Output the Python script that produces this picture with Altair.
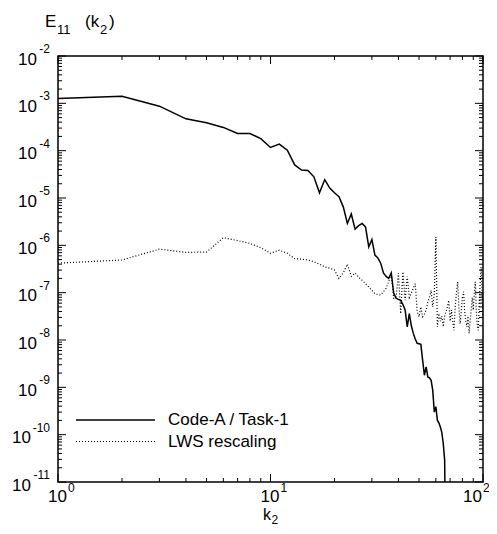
import altair as alt
import pandas as pd

# ---------------- data ----------------
series_names = ["Code-A / Task-1", "LWS rescaling"]

k_solid = list(range(1, 68))
e_solid = [1.26e-3, 1.41e-3, 8.7e-4, 4.7e-4, 3.9e-4, 3.1e-4, 2.3e-4, 2.3e-4, 1.8e-4, 1.17e-4,
           1.38e-4, 1.02e-4, 5.0e-5, 3.9e-5, 3.8e-5, 2.8e-5, 1.29e-5, 2.45e-5, 1.62e-5, 1.29e-5,
           1.07e-5, 6.5e-6, 2.9e-6, 4.6e-6, 2.2e-6, 2.6e-6, 2.9e-6, 2.45e-6, 9.3e-7, 1.32e-6,
           6.2e-7, 5.4e-7, 4.2e-7, 2.6e-7, 2.2e-7, 2.0e-7, 2.6e-7, 9.8e-8, 7.6e-8, 7.2e-8,
           6.9e-8, 5.6e-8, 4.3e-8, 1.9e-8, 3.6e-8, 2.0e-8, 1.38e-8, 1.05e-8, 8.5e-9, 8.3e-9,
           8.1e-9, 3.7e-9, 1.8e-9, 2.7e-9, 1.66e-9, 1.58e-9, 1.41e-9, 8.7e-10, 3.0e-10, 3.9e-10,
           2.0e-10, 1.78e-10, 1.45e-10, 1.12e-10, 6.5e-11, 2.9e-11, 1e-13]

k_dotted = list(range(1, 101))
e_dotted = [4.2e-7, 4.9e-7, 8.3e-7, 7.1e-7, 7.2e-7, 1.45e-6, 1.26e-6, 1.1e-6, 8.9e-7, 6.8e-7,
            7.9e-7, 6.8e-7, 5.2e-7, 5.1e-7, 4.9e-7, 4.5e-7, 4.0e-7, 3.5e-7, 3.3e-7, 3.0e-7,
            2.0e-7, 2.6e-7, 4.0e-7, 2.2e-7, 2.6e-7, 2.1e-7, 1.82e-7, 1.55e-7, 1.32e-7, 1.12e-7,
            9.5e-8, 9.1e-8, 8.9e-8, 1.05e-7, 1.23e-7, 1.7e-7, 2.6e-7, 7.6e-8, 7.9e-8, 2.6e-7,
            3.6e-8, 2.75e-7, 6.9e-8, 2.2e-7, 7.9e-8, 9.8e-8, 1.26e-7, 1.55e-7, 4.0e-8, 3.1e-8,
            5.0e-8, 3.1e-8, 3.5e-8, 4.3e-8, 6.3e-8, 7.9e-8, 1.12e-7, 5.0e-8, 9.5e-8, 1.5e-6,
            1.9e-8, 3.6e-8, 2.5e-8, 3.2e-8, 1.9e-8, 3.2e-8, 4.0e-8, 5.0e-8, 6.9e-8, 2.5e-8,
            4.3e-8, 2.5e-8, 1.6e-8, 5.0e-8, 1.0e-7, 1.7e-7, 5.0e-8, 2.2e-8, 4.0e-8, 7.9e-8,
            1.05e-7, 4.0e-8, 2.5e-8, 1.9e-8, 3.2e-8, 1.38e-8, 2.5e-8, 4.3e-8, 7.9e-8, 4.3e-8,
            1.0e-7, 1.7e-7, 4.0e-8, 2.0e-8, 1.6e-8, 6.3e-8, 1.58e-7, 3.5e-7, 1.0e-7, 3.2e-8]

x_major = [1, 10, 100]
x_minor = [2, 3, 4, 5, 6, 7, 8, 9, 20, 30, 40, 50, 60, 70, 80, 90]
x_exponents = ["0", "1", "2"]

y_major = [1e-2, 1e-3, 1e-4, 1e-5, 1e-6, 1e-7, 1e-8, 1e-9, 1e-10, 1e-11]
y_exponents = ["-2", "-3", "-4", "-5", "-6", "-7", "-8", "-9", "-10", "-11"]
y_minor = [m * 10.0 ** e for e in range(-11, -2) for m in range(2, 10)]

tick_base = "10"
x_title = ["k", "2"]
y_title = ["E", "11", "(k", "2", ")"]

# ---------------- layout ----------------
W, H = 425, 426
FONT = "Liberation Sans"
BIG, SMALL, SUB = 17, 12, 13

x_scale = alt.Scale(type="log", domain=[1, 100], nice=False)
y_scale = alt.Scale(type="log", domain=[1e-11, 1e-2], nice=False)


def X(field):
    return alt.X(field, type="quantitative", scale=x_scale, axis=None)


def Y(field):
    return alt.Y(field, type="quantitative", scale=y_scale, axis=None)


df_solid = pd.DataFrame({"k": k_solid, "E": e_solid})
df_dotted = pd.DataFrame({"k": k_dotted, "E": e_dotted})

solid = alt.Chart(df_solid).mark_line(color="black", strokeWidth=1.5, clip=True).encode(
    x=X("k"), y=Y("E"))
dotted = alt.Chart(df_dotted).mark_line(color="black", strokeWidth=1.2, strokeDash=[1, 2],
                                        clip=True).encode(x=X("k"), y=Y("E"))


def yticks(vals, x0, x1):
    return alt.Chart(pd.DataFrame({"v": vals})).mark_rule(color="black", strokeWidth=1).encode(
        y=Y("v"), x=alt.value(x0), x2=alt.value(x1))


def xticks(vals, y0, y1):
    return alt.Chart(pd.DataFrame({"v": vals})).mark_rule(color="black", strokeWidth=1).encode(
        x=X("v"), y=alt.value(y0), y2=alt.value(y1))


MINOR, MAJOR = 4, 8
ticks = [
    yticks(y_minor, 0, MINOR), yticks(y_major, 0, MAJOR),
    yticks(y_minor, W, W - MINOR), yticks(y_major, W, W - MAJOR),
    xticks(x_minor, H, H - MINOR), xticks(x_major, H, H - MAJOR),
    xticks(x_minor, 0, MINOR), xticks(x_major, 0, MAJOR),
]

# ---- tick labels as "10" + superscript exponent ----
ydf = pd.DataFrame({"v": y_major, "e": y_exponents})
ydf1 = ydf[ydf["e"].str.len() == 2]
ydf2 = ydf[ydf["e"].str.len() == 3]
xdf = pd.DataFrame({"v": x_major, "e": x_exponents})
xdf_in = xdf.iloc[:-1]
xdf_edge = xdf.iloc[-1:]


def base_text(**kw):
    return alt.Chart().mark_text(font=FONT, fontSize=BIG, color="black",
                                 baseline="alphabetic", **kw)


def sup_text(**kw):
    return alt.Chart().mark_text(font=FONT, fontSize=SMALL, color="black",
                                 baseline="alphabetic", **kw)


XL_BASE, XL_SUP = H + 20, H + 10
labels = [
    base_text(align="right", dy=8.5).properties(data=ydf1).encode(
        y=Y("v"), x=alt.value(-21), text=alt.value(tick_base)),
    base_text(align="right", dy=8.5).properties(data=ydf2).encode(
        y=Y("v"), x=alt.value(-27), text=alt.value(tick_base)),
    sup_text(align="right", dy=-3).properties(data=ydf).encode(
        y=Y("v"), x=alt.value(-8), text="e:N"),
    base_text(align="right", dx=9).properties(data=xdf_in).encode(
        x=X("v"), y=alt.value(XL_BASE), text=alt.value(tick_base)),
    sup_text(align="left", dx=10).properties(data=xdf_in).encode(
        x=X("v"), y=alt.value(XL_SUP), text="e:N"),
    base_text(align="right", dx=-1).properties(data=xdf_edge).encode(
        x=X("v"), y=alt.value(XL_BASE), text=alt.value(tick_base)),
    sup_text(align="left", dx=0).properties(data=xdf_edge).encode(
        x=X("v"), y=alt.value(XL_SUP), text="e:N"),
]

one = pd.DataFrame({"a": [0]})


def free_text(txt, x, y, size, align="left"):
    return alt.Chart(one).mark_text(font=FONT, fontSize=size, color="black", align=align,
                                    baseline="alphabetic").encode(
        x=alt.value(x), y=alt.value(y), text=alt.value(txt))


titles = [
    free_text(y_title[0], -13, -29.5, BIG),
    free_text(y_title[1], -1, -22.5, SUB),
    free_text(y_title[2], 27, -29.5, BIG),
    free_text(y_title[3], 42, -22.5, SUB),
    free_text(y_title[4], 51, -29.5, BIG),
    free_text(x_title[0], 205, H + 37.5, 16),
    free_text(x_title[1], 213.5, H + 41.5, 12),
]

leg_y = [364, 385.5]
legend = [
    alt.Chart(one).mark_rule(color="black", strokeWidth=1.5).encode(
        x=alt.value(18), x2=alt.value(97), y=alt.value(leg_y[0])),
    alt.Chart(one).mark_rule(color="black", strokeWidth=1.2, strokeDash=[1, 2]).encode(
        x=alt.value(18), x2=alt.value(97), y=alt.value(leg_y[1])),
    alt.Chart(one).mark_text(align="left", baseline="middle", fontSize=BIG, font=FONT,
                             color="black").encode(
        x=alt.value(110), y=alt.value(leg_y[0]), text=alt.value(series_names[0])),
    alt.Chart(one).mark_text(align="left", baseline="middle", fontSize=BIG, font=FONT,
                             color="black").encode(
        x=alt.value(110), y=alt.value(leg_y[1]), text=alt.value(series_names[1])),
]

chart = alt.layer(dotted, solid, *ticks, *labels, *titles, *legend).properties(
    width=W, height=H,
    autosize=alt.AutoSizeParams(type="none"),
    padding={"left": 50, "top": 48, "right": 6, "bottom": 44},
    background="white",
).configure_view(stroke="black", strokeWidth=1.5)

chart.save("out.html", embed_options={"renderer": "svg", "actions": False})
